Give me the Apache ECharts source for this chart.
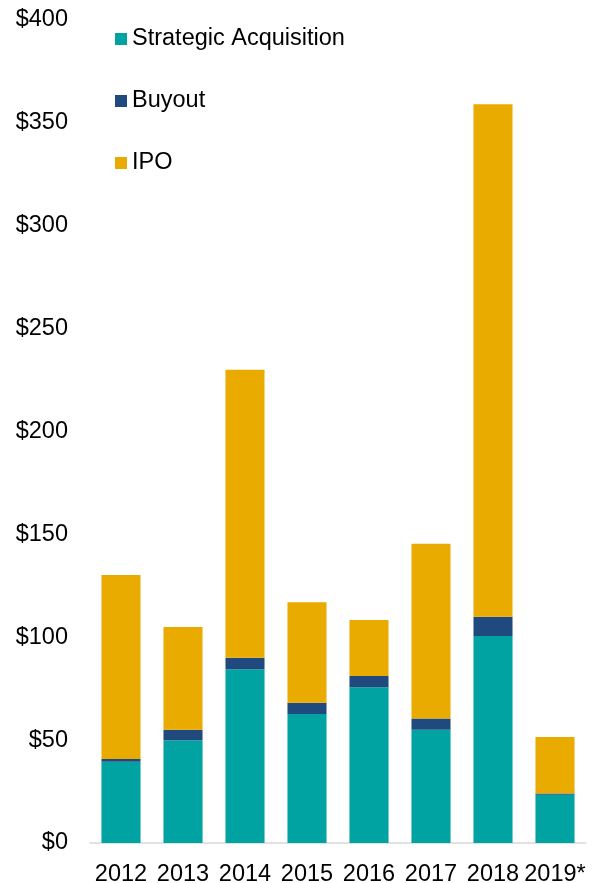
<!DOCTYPE html>
<html>
<head>
<meta charset="utf-8">
<script src="https://cdn.jsdelivr.net/npm/echarts@6/dist/echarts.min.js"></script>
<style>
  html, body { margin: 0; padding: 0; background: #fff; }
  #chart { width: 602px; height: 883px; }
</style>
</head>
<body>
<div id="chart"></div>
<script>
// 数据
const years = ['2012', '2013', '2014', '2015', '2016', '2017', '2018', '2019*'];
const strategic = [39.5, 50, 84.5, 62.7, 75.7, 55, 100.6, 23.5];
const buyout = [1.3, 5, 5.5, 5.5, 5.5, 5.5, 9.4, 0.5];
const ipo = [89.5, 50, 140, 48.8, 27.2, 85, 249, 27.5];
const yTicks = [0, 50, 100, 150, 200, 250, 300, 350, 400];

const font = 'Liberation Sans, Arial, sans-serif';

function initChart() {
    const chart = echarts.init(document.getElementById('chart'));
    chart.setOption({
        animation: false,
        textStyle: { fontFamily: font },
        grid: { left: 90, right: 16, top: 20, bottom: 40, outerBoundsMode: 'none' },
        legend: {
            orient: 'vertical',
            left: 110,
            top: 22,
            itemGap: 38,
            itemWidth: 12,
            itemHeight: 12,
            icon: 'rect',
            textStyle: { fontSize: 23.5, color: '#000', fontFamily: font },
            data: ['Strategic Acquisition', 'Buyout', 'IPO']
        },
        xAxis: {
            type: 'category',
            data: years,
            axisLine: { lineStyle: { color: '#D9D9D9', width: 1.5 } },
            axisTick: { show: false },
            axisLabel: { fontSize: 23.5, color: '#000', margin: 20, interval: 0 }
        },
        yAxis: {
            type: 'value',
            min: yTicks[0],
            max: yTicks[yTicks.length - 1],
            interval: 50,
            splitLine: { show: false },
            axisLine: { show: false },
            axisTick: { show: false },
            axisLabel: { fontSize: 23.5, color: '#000', margin: 22, formatter: v => '$' + v }
        },
        series: [
            { name: 'Strategic Acquisition', type: 'bar', stack: 'total', data: strategic, barCategoryGap: '37%', itemStyle: { color: '#00A3A1' } },
            { name: 'Buyout', type: 'bar', stack: 'total', data: buyout, itemStyle: { color: '#204A7E' } },
            { name: 'IPO', type: 'bar', stack: 'total', data: ipo, itemStyle: { color: '#EAAB00' } }
        ]
    });
}

initChart();
</script>
</body>
</html>
